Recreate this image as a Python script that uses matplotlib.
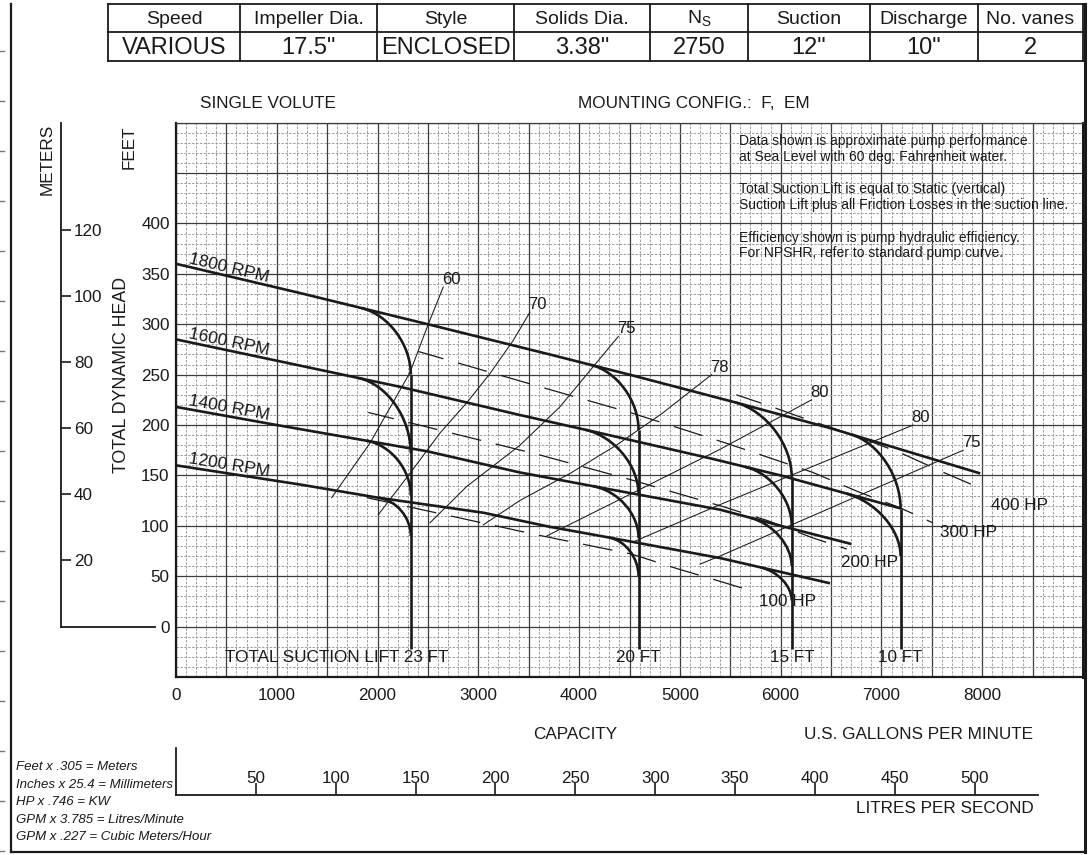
import numpy as np
import matplotlib.pyplot as plt
from matplotlib.path import Path
from matplotlib.patches import PathPatch
from matplotlib.transforms import blended_transform_factory

plt.rcParams['font.family'] = ['Liberation Sans', 'DejaVu Sans']
plt.rcParams['mathtext.fontset'] = 'custom'
plt.rcParams['mathtext.rm'] = 'Liberation Sans'

# ---- data --------------------------------------------------------------
table_heads = ['Speed', 'Impeller Dia.', 'Style', 'Solids Dia.', r'N$_{\mathregular{S}}$',
               'Suction', 'Discharge', 'No. vanes']
table_vals = ['VARIOUS', '17.5"', 'ENCLOSED', '3.38"', '2750', '12"', '10"', '2']

speeds = ['1800 RPM', '1600 RPM', '1400 RPM', '1200 RPM']
head_gpm = [
    [0, 1230, 2500, 3710, 4500, 5530, 6490, 7980],
    [0, 1230, 2220, 3410, 4210, 5300, 6000, 7200],
    [0, 1000, 2490, 3410, 4210, 5400, 6000, 6700],
    [0, 1230, 2000, 3050, 3710, 4210, 5400, 6490],
]
head_ft = [
    [360, 331, 300, 270, 250, 223, 197, 152],
    [285, 259, 238, 210, 192, 167, 150, 117],
    [218, 200, 174, 153, 138, 116, 100, 82],
    [160, 141, 128, 113, 99, 90, 68, 43],
]
rpm_rot = [-13.5, -12.0, -10.5, -9.5]

# suction lift limits: vertical capacity, where each speed leaves its head curve, and where it turns vertical
lift_labels = ['TOTAL SUCTION LIFT 23 FT', '20 FT', '15 FT', '10 FT']
lift_gpm = [2330, 4590, 6110, 7190]
lift_bottom = -22
branch_gpm = [[1840, 1810, 1890, 2010],
              [4120, 4060, 4140, 4300],
              [5550, 5650, 5700, 5800],
              [6700, 6650, None, None]]
join_ft = [[250, 172, 130, 90],
           [195, 131, 88, 50],
           [148, 100, 60, 26],
           [117, 70, None, None]]

# efficiency lines
eff_labels = ['60', '70', '75', '78', '80', '80', '75']
eff_gpm = [
    [1545, 1924, 2321, 2503, 2652],
    [2007, 2321, 2619, 2884, 3115, 3346, 3512],
    [2520, 2884, 3413, 3809, 4124, 4390],
    [3050, 3410, 3910, 4370, 4830, 5314],
    [3680, 5400, 6306],
    [4560, 5397, 7314],
    [5200, 5397, 7811],
]
eff_ft = [
    [128, 182, 252, 300, 337],
    [111, 152, 192, 222, 251, 284, 312],
    [103, 139, 180, 218, 256, 288],
    [101, 125, 152, 180, 212, 250],
    [90, 176, 225],
    [85, 121, 200],
    [62, 70, 175],
]

# horsepower lines
hp_labels = ['100 HP', '200 HP', '300 HP', '400 HP']
hp_gpm = [
    [1892, 3584, 4520, 4973, 5429, 5724],
    [1908, 3584, 4504, 5429, 5876, 6319, 6656],
    [2404, 3611, 4520, 5429, 6319, 6765, 7182, 7509],
    [5560, 5860, 6306, 6753, 7198, 7628, 7990],
]
hp_ft = [
    [128, 91, 72, 57.5, 44, 35],
    [212.5, 171, 146, 119, 105, 88, 77],
    [273, 238, 212, 183, 153, 134, 118, 103],
    [230, 220, 204, 189, 172, 152.5, 137],
]
hp_label_pos = [(6066, 25), (6884, 64), (7867, 93), (8372, 120)]

gpm_ticks = list(range(0, 9001, 500))
ft_ticks = list(range(-50, 501, 50))
meter_ticks = [20, 40, 60, 80, 100, 120]
lps_ticks = [50, 100, 150, 200, 250, 300, 350, 400, 450, 500]

notes = ['Data shown is approximate pump performance',
         'at Sea Level with 60 deg. Fahrenheit water.',
         'Total Suction Lift is equal to Static (vertical)',
         'Suction Lift plus all Friction Losses in the suction line.',
         'Efficiency shown is pump hydraulic efficiency.',
         'For NPSHR, refer to standard pump curve.']
conversions = ['Feet x .305 = Meters', 'Inches x 25.4 = Millimeters', 'HP x .746 = KW',
               'GPM x 3.785 = Litres/Minute', 'GPM x .227 = Cubic Meters/Hour']

FT_TO_M = 0.3048
GPM_TO_LPS = 0.0630902

# ---- layout --------------------------------------------------------------
W, H = 1090, 855
ink = '#1a1a1a'
fs = 12.3
lw_curve = 1.9
fig = plt.figure(figsize=(W / 100, H / 100), dpi=100)


def box(x0, y0, x1, y1):
    return [x0 / W, 1 - y1 / H, (x1 - x0) / W, (y1 - y0) / H]


# overlay in pixel units for the page frame and header table
ov = fig.add_axes([0, 0, 1, 1], zorder=3)
ov.set_xlim(0, W)
ov.set_ylim(H, 0)
ov.axis('off')

lw_frame = 1.6
ov.plot([11, 11], [4, 852], color=ink, lw=lw_frame)
ov.plot([11, 1085], [852, 852], color=ink, lw=lw_frame)
ov.plot([1085, 1085], [4, 852], color=ink, lw=2.2)
for y in range(51, 852, 50):
    ov.plot([0, 4], [y, y], color='#777777', lw=1)

cols = [108, 240, 377, 514, 650, 748, 870, 978, 1083]
rows = [4, 32, 61]
for y in rows:
    ov.plot([cols[0], cols[-1]], [y, y], color=ink, lw=1.3)
for x in cols:
    ov.plot([x, x], [rows[0], rows[-1]], color=ink, lw=1.3)
for i in range(len(table_heads)):
    cx = (cols[i] + cols[i + 1]) / 2
    ov.text(cx, (rows[0] + rows[1]) / 2 + 1, table_heads[i], ha='center', va='center', fontsize=14, color=ink)
    ov.text(cx, (rows[1] + rows[2]) / 2 + 1, table_vals[i], ha='center', va='center', fontsize=17, color=ink)

ov.text(200, 103, 'SINGLE VOLUTE', ha='left', va='center', fontsize=fs, color=ink)
ov.text(578, 103, 'MOUNTING CONFIG.:  F,  EM', ha='left', va='center', fontsize=fs, color=ink)
ov.text(47, 159, 'METERS', rotation=90, ha='center', va='center', fontsize=fs, color=ink)
ov.text(129, 147, 'FEET', rotation=90, ha='center', va='center', fontsize=fs, color=ink)
ov.text(121, 375, 'TOTAL DYNAMIC HEAD', rotation=90, ha='center', va='center', fontsize=12.8, color=ink)
ov.text(575, 734, 'CAPACITY', ha='center', va='center', fontsize=fs, color=ink)
ov.text(1033, 734, 'U.S. GALLONS PER MINUTE', ha='right', va='center', fontsize=fs, color=ink)
ov.text(1034, 808, 'LITRES PER SECOND', ha='right', va='center', fontsize=fs, color=ink)
for i, line in enumerate(conversions):
    ov.text(16, 767 + 17.5 * i, line, ha='left', va='center', fontsize=9.5, style='italic', color=ink)
for i, line in enumerate(notes):
    ov.text(739, [141, 157, 189, 205, 238, 253][i], line, ha='left', va='center', fontsize=10, color=ink)

# ---- main chart ----------------------------------------------------------
ax = fig.add_axes(box(176, 122.7, 1083, 677), zorder=2)
ax.set_xlim(0, 9000)
ax.set_ylim(-50, 500)
ax.set_xticks(gpm_ticks)
ax.set_xticklabels([str(v) if v % 1000 == 0 and v <= 8000 else '' for v in gpm_ticks])
ax.set_yticks(ft_ticks)
ax.set_yticklabels([str(v) if 0 <= v <= 400 else '' for v in ft_ticks])
ax.set_xticks(np.arange(0, 9001, 100), minor=True)
ax.set_yticks(np.arange(-50, 501, 10), minor=True)
ax.tick_params(which='both', length=0)
ax.tick_params(axis='x', pad=8, labelsize=fs, colors=ink)
ax.tick_params(axis='y', pad=4.5, labelsize=fs, colors=ink)
ax.grid(which='minor', color='#9c9c9c', lw=0.7, linestyle=(0, (2.5, 1.5)))
ax.grid(which='major', color='#3c3c3c', lw=0.9, linestyle='-')
ax.set_axisbelow(True)
for side in ['left', 'bottom']:
    ax.spines[side].set_linewidth(1.6)
    ax.spines[side].set_color(ink)
ax.spines['top'].set_linewidth(0.9)
ax.spines['top'].set_color('#3c3c3c')
ax.spines['right'].set_linewidth(2.2)
ax.spines['right'].set_color(ink)

# head curves
for i in range(len(speeds)):
    ax.plot(head_gpm[i], head_ft[i], color=ink, lw=lw_curve, solid_capstyle='butt', zorder=4)
    y0 = np.interp(120, head_gpm[i], head_ft[i]) + 4
    ax.text(120, y0, speeds[i], rotation=rpm_rot[i], rotation_mode='anchor',
            ha='left', va='baseline', fontsize=12.5, color=ink, zorder=5)

# suction lift curves
k = 0.55
for li, vx in enumerate(lift_gpm):
    joins = []
    for si in range(len(speeds)):
        bx = branch_gpm[li][si]
        if bx is None:
            continue
        by = np.interp(bx, head_gpm[si], head_ft[si])
        cy = np.interp(vx, head_gpm[si], head_ft[si])
        jy = join_ft[li][si]
        joins.append(jy)
        verts = [(bx, by), (bx + k * (vx - bx), by + k * (cy - by)),
                 (vx, jy + k * (cy - jy)), (vx, jy)]
        codes = [Path.MOVETO, Path.CURVE4, Path.CURVE4, Path.CURVE4]
        ax.add_patch(PathPatch(Path(verts, codes), fill=False, lw=lw_curve, ec=ink, zorder=4))
    ax.plot([vx, vx], [max(joins), lift_bottom], color=ink, lw=lw_curve, solid_capstyle='butt', zorder=4)

ax.text(2700, -30.7, lift_labels[0], ha='right', va='center', fontsize=fs, color=ink, zorder=5)
for li in range(1, len(lift_gpm)):
    ax.text(lift_gpm[li], -30.7, lift_labels[li], ha='center', va='center', fontsize=fs, color=ink, zorder=5)

# efficiency lines
for i in range(len(eff_labels)):
    ax.plot(eff_gpm[i], eff_ft[i], color=ink, lw=0.75, zorder=3)
    ax.annotate(eff_labels[i], (eff_gpm[i][-1], eff_ft[i][-1]), xytext=(-1, 0),
                textcoords='offset points', ha='left', va='bottom', fontsize=12, color=ink, zorder=5)

# horsepower lines
for i in range(len(hp_labels)):
    ax.plot(hp_gpm[i], hp_ft[i], color=ink, lw=0.9, linestyle=(3, (24, 12)), zorder=3)
    ax.text(hp_label_pos[i][0], hp_label_pos[i][1], hp_labels[i], ha='center', va='center',
            fontsize=fs, color=ink, zorder=5)

# ---- metres scale --------------------------------------------------------
axm = fig.add_axes(box(20, 122.7, 60.7, 677), zorder=2)
axm.set_ylim(-50 * FT_TO_M, 500 * FT_TO_M)
axm.patch.set_alpha(0)
for side in ['left', 'top', 'bottom']:
    axm.spines[side].set_visible(False)
axm.spines['right'].set_bounds(0, 500 * FT_TO_M)
axm.spines['right'].set_linewidth(1.3)
axm.spines['right'].set_color(ink)
axm.set_xticks([])
axm.yaxis.tick_right()
axm.set_yticks(meter_ticks)
axm.tick_params(axis='y', direction='out', length=7.5, width=1.2, pad=2, labelsize=fs, colors=ink)
bt = blended_transform_factory(axm.transAxes, axm.transData)
axm.plot([1, 1 + (155 - 60.7) / (60.7 - 20)], [0, 0], color=ink, lw=1.3, transform=bt, clip_on=False)

# ---- litres per second scale ----------------------------------------------
axl = fig.add_axes(box(176, 748, 1083, 795), zorder=2)
axl.set_xlim(0, 9000 * GPM_TO_LPS)
axl.patch.set_alpha(0)
axl.spines['top'].set_visible(False)
axl.spines['right'].set_visible(False)
axl.spines['bottom'].set_bounds(0, 8550 * GPM_TO_LPS)
for side in ['left', 'bottom']:
    axl.spines[side].set_linewidth(1.3)
    axl.spines[side].set_color(ink)
axl.set_yticks([])
axl.set_xticks(lps_ticks)
axl.tick_params(axis='x', direction='in', length=8.5, width=1.2, pad=-17.5, labelsize=fs, colors=ink)

fig.savefig('out.png', dpi=100)
